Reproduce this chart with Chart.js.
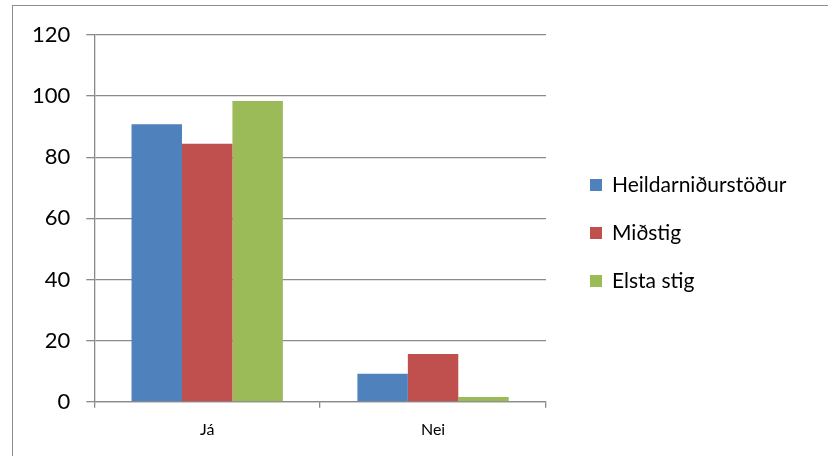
<!DOCTYPE html>
<html>
<head>
<meta charset="utf-8">
<script src="https://cdn.jsdelivr.net/npm/chart.js@4/dist/chart.umd.min.js"></script>
<style>
    body { margin: 0; background: #fff; }
    #wrap { position: relative; width: 828px; height: 456px; overflow: hidden; }
    #frame { position: absolute; left: 12px; top: 5px; width: 900px; height: 500px;
             border-top: 1px solid #8c8c8c; border-left: 1px solid #8c8c8c; }
    #legend { position: absolute; left: 590px; top: 171px; font-family: Lato, sans-serif; font-size: 21px; color: #000; }
    #legend .item { height: 48px; display: flex; align-items: flex-start; }
    #legend .box { width: 12px; height: 12px; margin: 8px 10px 0 0; }
</style>
</head>
<body>
<div id="wrap">
    <div id="frame"></div>
    <canvas id="chart" width="828" height="456"></canvas>
    <div id="legend"></div>
</div>
<script>
var categories = ["Já", "Nei"];
var seriesNames = ["Heildarniðurstöður", "Miðstig", "Elsta stig"];
var heildar = [90.8, 9.2];
var midstig = [84.4, 15.6];
var elsta = [98.4, 1.6];
var yTicks = [0, 20, 40, 60, 80, 100, 120];
var colors = ["#4f81bd", "#c0504d", "#9bbb59"];

var gridColor = "#8a8a8a";

var ctx = document.getElementById("chart").getContext("2d");
var values = [heildar, midstig, elsta];

var datasets = [];
for (var i = 0; i < seriesNames.length; i++) {
    datasets.push({
        label: seriesNames[i],
        data: values[i],
        backgroundColor: colors[i],
        borderWidth: 0,
        categoryPercentage: 0.67,
        barPercentage: 1.0
    });
}

var chart = new Chart(ctx, {
    type: "bar",
    data: { labels: categories, datasets: datasets },
    options: {
        responsive: false,
        animation: false,
        layout: { padding: { left: 16, right: 282, top: 35, bottom: 5 } },
        plugins: {
            legend: { display: false },
            tooltip: { enabled: false }
        },
        scales: {
            x: {
                offset: true,
                grid: {
                    offset: true,
                    drawOnChartArea: false,
                    drawTicks: true,
                    tickLength: 6,
                    color: gridColor,
                    lineWidth: 1.3
                },
                border: { color: gridColor, width: 1.3 },
                ticks: {
                    color: "#000",
                    padding: 12,
                    font: { family: "Lato", size: 16 }
                }
            },
            y: {
                min: 0,
                max: 120,
                afterBuildTicks: function(axis) {
                    axis.ticks = yTicks.map(function(v) { return { value: v }; });
                },
                grid: {
                    color: gridColor,
                    lineWidth: 1.3,
                    drawTicks: true,
                    tickLength: 8
                },
                border: { color: gridColor, width: 1.3 },
                ticks: {
                    color: "#000",
                    padding: 16,
                    font: { family: "Lato", size: 22 }
                }
            }
        }
    }
});

/* legend drawn as html from the chart's datasets */
var legendHtml = "";
chart.data.datasets.forEach(function(ds) {
    legendHtml += '<div class="item"><span class="box" style="background:' + ds.backgroundColor +
        '"></span><span>' + ds.label + '</span></div>';
});
document.getElementById("legend").innerHTML = legendHtml;
</script>
</body>
</html>
